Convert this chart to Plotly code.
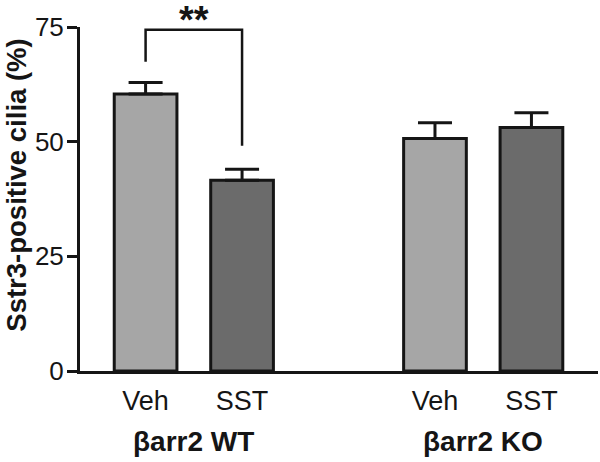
import plotly.graph_objects as go

# Data
x_pos = [0, 1, 3, 4]
tick_labels = ["Veh", "SST", "Veh", "SST"]
group_labels = ["βarr2 WT", "βarr2 KO"]
group_centers = [0.5, 3.5]
means = [60.4, 41.6, 50.7, 53.1]
sem = [2.5, 2.4, 3.4, 3.2]
colors = ["#a6a6a6", "#6b6b6b", "#a6a6a6", "#6b6b6b"]
yticks = [0, 25, 50, 75]

FONT = "Liberation Sans, Arial, sans-serif"
INK = "#151515"

fig = go.Figure()
fig.add_trace(go.Bar(
    x=x_pos, y=means, width=0.65,
    marker=dict(color=colors, line=dict(color=INK, width=3)),
    error_y=dict(type="data", array=sem, arrayminus=[0]*4, symmetric=False,
                 color=INK, thickness=3, width=17),
    showlegend=False,
))

# significance bracket
fig.add_shape(type="path", xref="x", yref="y",
              path="M 0,67.4 L 0,74.4 L 1,74.4 L 1,49.1",
              line=dict(color=INK, width=2.5))
fig.add_annotation(x=0.5, y=1.0 + 30 / 343.4, xref="x", yref="paper", text="<b>**</b>",
                   showarrow=False, font=dict(family=FONT, size=38, color=INK),
                   yanchor="top")

for lab, cx in zip(group_labels, group_centers):
    fig.add_annotation(x=cx, y=-0.205, xref="x", yref="paper", text="<b>%s</b>" % lab,
                       showarrow=False, font=dict(family=FONT, size=28, color=INK),
                       yanchor="middle")

fig.add_annotation(x=-0.122, y=0.541, xref="paper", yref="paper",
                   text="<b>Sstr3-positive cilia (%)</b>", textangle=-90,
                   showarrow=False, font=dict(family=FONT, size=27.5, color=INK),
                   xanchor="center", yanchor="middle")

fig.update_layout(
    width=600, height=462,
    margin=dict(l=80, r=2, t=27, b=91),
    plot_bgcolor="white", paper_bgcolor="white",
    font=dict(family=FONT, color=INK),
    xaxis=dict(range=[-0.68, 4.69], tickvals=x_pos, ticktext=tick_labels,
               showline=True, linecolor=INK, linewidth=3, ticks="",
               showgrid=False, zeroline=False, tickfont=dict(size=27),
               ticklabelstandoff=4),
    yaxis=dict(range=[0, 75], tickvals=yticks, showline=True, linecolor=INK,
               linewidth=3, ticks="outside", ticklen=10, tickwidth=3, tickcolor=INK,
               showgrid=False, zeroline=False, tickfont=dict(size=26),
               ticklabelstandoff=-2),
)

fig.write_html("out.html", config={"displayModeBar": False},
               post_script="document.body.style.margin='0';")
